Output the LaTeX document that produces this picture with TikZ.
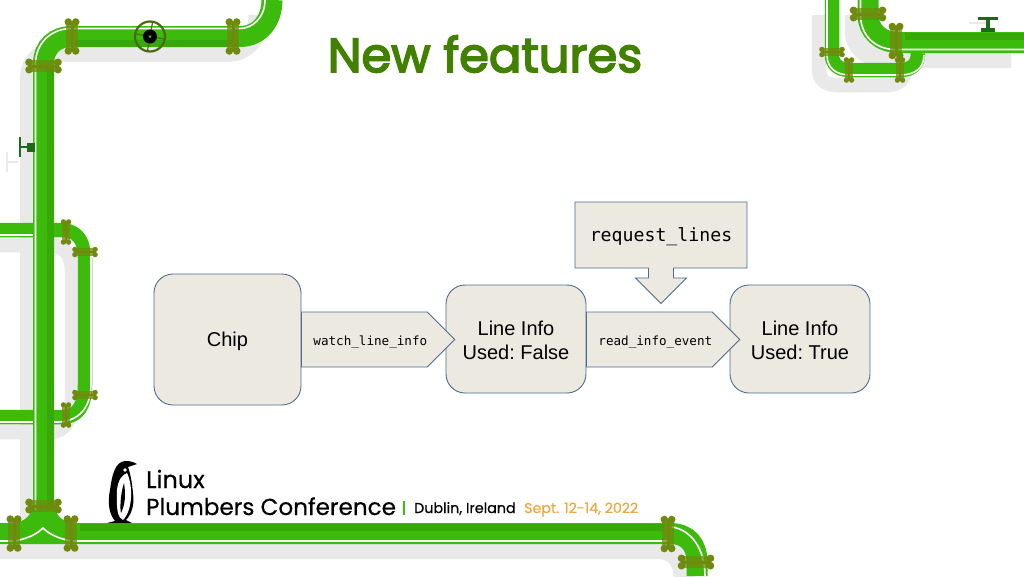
\documentclass[tikz,border=0pt]{standalone}
\usepackage{fontspec}
\setmainfont{Liberation Sans}
\setmonofont{DejaVu Sans Mono}
\newfontfamily\logofont[FakeBold=0.5]{Poppins}
\newfontfamily\titlefont[FakeBold=3.4]{Poppins}
\usetikzlibrary{shapes.arrows,shapes.symbols}

\definecolor{pipegreen}{HTML}{3DBB0C}
\definecolor{pipedark}{HTML}{37A906}
\definecolor{flangecolor}{HTML}{6F8A0E}
\definecolor{wheelcolor}{HTML}{4A6A12}
\definecolor{valvegreen}{HTML}{1B6B1B}
\definecolor{shadowgray}{HTML}{E9E9E9}
\definecolor{titlegreen}{HTML}{428000}
\definecolor{dateorange}{HTML}{EFA63B}
\definecolor{boxfill}{HTML}{ECE9E0}
\definecolor{boxline}{HTML}{4F6A8F}

\tikzset{
  bigpipe/.style={line width=21pt},
  smallpipe/.style={line width=14.5pt},
  castshadow/.style={color=shadowgray, shift={(-13,15)}},
  stripe/.style={draw=white, line width=1.6pt},
  shade/.style={draw=pipedark, line width=7pt},
  box/.style={draw=boxline, fill=boxfill, line width=.9pt, rounded corners=19pt, align=center,
    font=\frenchspacing\fontsize{20}{24}\selectfont},
  pointer/.style={shape=signal, signal to=east, signal from=nowhere, signal pointer angle=90,
    draw=boxline, fill=boxfill, line width=.9pt, minimum height=55pt, inner sep=0pt, anchor=west,
    text height=12pt, text depth=0pt, execute at begin node=\hspace*{12pt},
    font=\ttfamily\fontsize{12.6}{15}\selectfont},
  callbox/.style={shape=arrow box, draw=boxline, fill=boxfill, line width=.9pt,
    minimum width=172pt, minimum height=66pt, inner sep=0pt, text height=12pt, text depth=0pt,
    arrow box arrows={south:35pt}, arrow box shaft width=25pt, arrow box head extend=13pt,
    arrow box tip angle=90, font=\ttfamily\fontsize{18.2}{22}\selectfont},
  logotext/.style={anchor=base west, inner sep=0pt},
  flange/.pic={
    \fill[flangecolor, opacity=.75] (-6,-13) rectangle (6,13);
    \fill[flangecolor] (-1.5,-14) rectangle (1.5,14);
    \foreach \sx in {-1,1} \foreach \sy in {-1,1}
      \fill[flangecolor] (\sx*3.7,\sy*14.5) circle (3.8);
  }
}

% all the pipe runs, once for the cast shadow and once for the pipe
\newcommand{\pipelines}[1]{
  \draw[smallpipe,#1] (0,230) -- (62,230) .. controls (78,230) and (85,240) .. (85,258) -- (85,385)
    .. controls (85,405) and (78,417) .. (62,417) -- (0,417);
  \draw[smallpipe,#1] (832,0) -- (832,55) .. controls (832,64) and (838,70) .. (850,70) -- (900,70)
    .. controls (912,70) and (918,64) .. (918,53);
  \draw[bigpipe,#1] (43.5,515) -- (43.5,64) .. controls (43.5,47) and (55,36.5) .. (72,36.5) -- (240,36.5)
    .. controls (260,36.5) and (272,20) .. (272,0);
  \draw[bigpipe,#1] (868,0) -- (868,15) .. controls (868,30) and (880,42.5) .. (898,42.5) -- (1024,42.5);
  \draw[bigpipe,#1] (0,533.5) -- (670,533.5) .. controls (688,533.5) and (697,545) .. (697,562) -- (697,576);
  \draw[bigpipe,#1] (43.5,500) .. controls (43.5,522) and (30,533.5) .. (10,533.5);
  \draw[bigpipe,#1] (43.5,500) .. controls (43.5,522) and (57,533.5) .. (77,533.5);
}

\begin{document}
\begin{tikzpicture}[x=1pt,y=-1pt]
\useasboundingbox (0,0) rectangle (1024,576);

\pipelines{castshadow}
\pipelines{pipegreen}

% shaded side of the pipes
\draw[shade] (50,510) -- (50,66);
\draw[shade] (75,43.5) -- (238,43.5);
\draw[shade] (905,36) -- (1024,36);
\draw[shade] (80,527) -- (665,527);

% white highlights
\draw[stripe] (0,235) -- (33,235);
\draw[stripe] (0,422) -- (33,422);
\draw[stripe] (66,222.5) .. controls (80,224) and (91,235) .. (91,252) -- (91,385)
  .. controls (91,408) and (78,423) .. (54,422);
\draw[stripe] (827,0) -- (827,55) .. controls (827,68) and (836,75) .. (850,75) -- (900,75)
  .. controls (915,75) and (924,68) .. (924,55);
\draw[stripe] (860.5,0) -- (860.5,15) .. controls (860.5,35) and (875,49.5) .. (895,49.5) -- (1024,49.5);
\draw[stripe] (35.5,510) -- (35.5,64) .. controls (35.5,44) and (50,28.5) .. (72,28.5) -- (240,28.5)
  .. controls (252,28.5) and (265,18) .. (265,0);
\draw[stripe] (0,541) -- (15,541) .. controls (30,538) and (38,533) .. (43,528)
  .. controls (48,533) and (56,538) .. (71,541) -- (668,541);
\draw[stripe] (672,527) .. controls (692,530) and (705,550) .. (705,576);

% flanges
\foreach \fx/\fy/\frot/\fsize in {72/36.5/0/1, 233/36.5/0/1, 43.5/66/90/1, 43.5/506/90/1, 14/533.5/0/1,
    71/533.5/0/1, 668/534/0/1, 696/562/90/1, 868/14/90/1, 896/41/0/1,
    66/232/0/.7, 85/252/90/.7, 85/395/90/.7, 66/415/0/.7, 832/52/90/.7, 849/70/0/.7, 900/70/0/.7} {
  \pic[rotate=\frot, scale=\fsize] at (\fx,\fy) {flange};
}

% wheel on the top pipe
\draw[wheelcolor, line width=2.2pt] (150,36.5) circle (15);
\foreach \wa in {10,100,190,280} {
  \draw[wheelcolor, line width=1.2pt] (150,36.5) -- ++(\wa:15);
}
\fill[black] (150,36.5) circle (7);
\fill[pipegreen] (150,36.5) circle (1.5);

% small valves
\fill[shadowgray] (6,152) rectangle (8,172);
\fill[shadowgray] (8,161) rectangle (18,163);
\fill[valvegreen] (19,137) rectangle (21,157);
\fill[valvegreen] (21,146) rectangle (30,148);
\fill[valvegreen] (27,143) rectangle (35,152);
\fill[shadowgray] (969,22) rectangle (989,24);
\fill[valvegreen] (978,16.5) rectangle (998,19.5);
\fill[valvegreen] (986,19) rectangle (990,28);
\fill[valvegreen] (981,28) rectangle (995,32);

% penguin
\fill[black] (137,464) .. controls (132,461) and (128,461) .. (125,461)
  .. controls (115,462) and (112,475) .. (110,490) .. controls (107,505) and (110,515) .. (115,521)
  -- (107,523) -- (132,523) -- (126,520) .. controls (131,515) and (135,505) .. (133,493)
  .. controls (132,482) and (130,472) .. (128,467) -- cycle;
\fill[white] (127,473) .. controls (133,485) and (133,510) .. (123,520)
  .. controls (118,518) and (116,510) .. (117,490) .. controls (118,480) and (122,475) .. (127,473);
\fill[black] (124,483) .. controls (120,495) and (120,510) .. (121,513)
  .. controls (125,505) and (126,495) .. (124,483);
\fill[white] (125,470) circle (1.8);

% logo texts
\node[logotext, font=\logofont\fontsize{24}{28}\selectfont] (linux) at (146,488) {Linux};
\node[logotext, font=\logofont\fontsize{23.1}{28}\selectfont] (plumbers) at (146,515) {Plumbers Conference};
\fill[pipegreen] (402.5,501) rectangle (404.5,515);
\node[logotext, font=\logofont\fontsize{14.3}{17}\selectfont] (dublin) at (414,513) {Dublin, Ireland};
\node[logotext, text=dateorange, font=\logofont\fontsize{14.2}{17}\selectfont] (dates) at (524,513) {Sept. 12-14, 2022};

% title
\node[text=titlegreen, font=\titlefont\fontsize{48}{54}\selectfont] (title) at (485,54) {New features};

% diagram
\node[box, minimum width=147pt, minimum height=131pt, text height=14pt, text depth=0pt] (chip) at (227.5,339.5) {Chip};
\node[box, minimum width=140pt, minimum height=108pt, text height=40pt, text depth=0pt] (falseinfo) at (516,339) {Line Info\\Used: False};
\node[box, minimum width=140pt, minimum height=108pt, text height=40pt, text depth=0pt] (trueinfo) at (800,339) {Line Info\\Used: True};
\node[pointer, minimum width=153pt] (watch) at (301,339.5) {watch\_line\_info};
\node[pointer, minimum width=151pt] (readevent) at (586,339.5) {read\_info\_event};
\node[callbox] (request) at (661,235) {request\_lines};
\end{tikzpicture}
\end{document}
